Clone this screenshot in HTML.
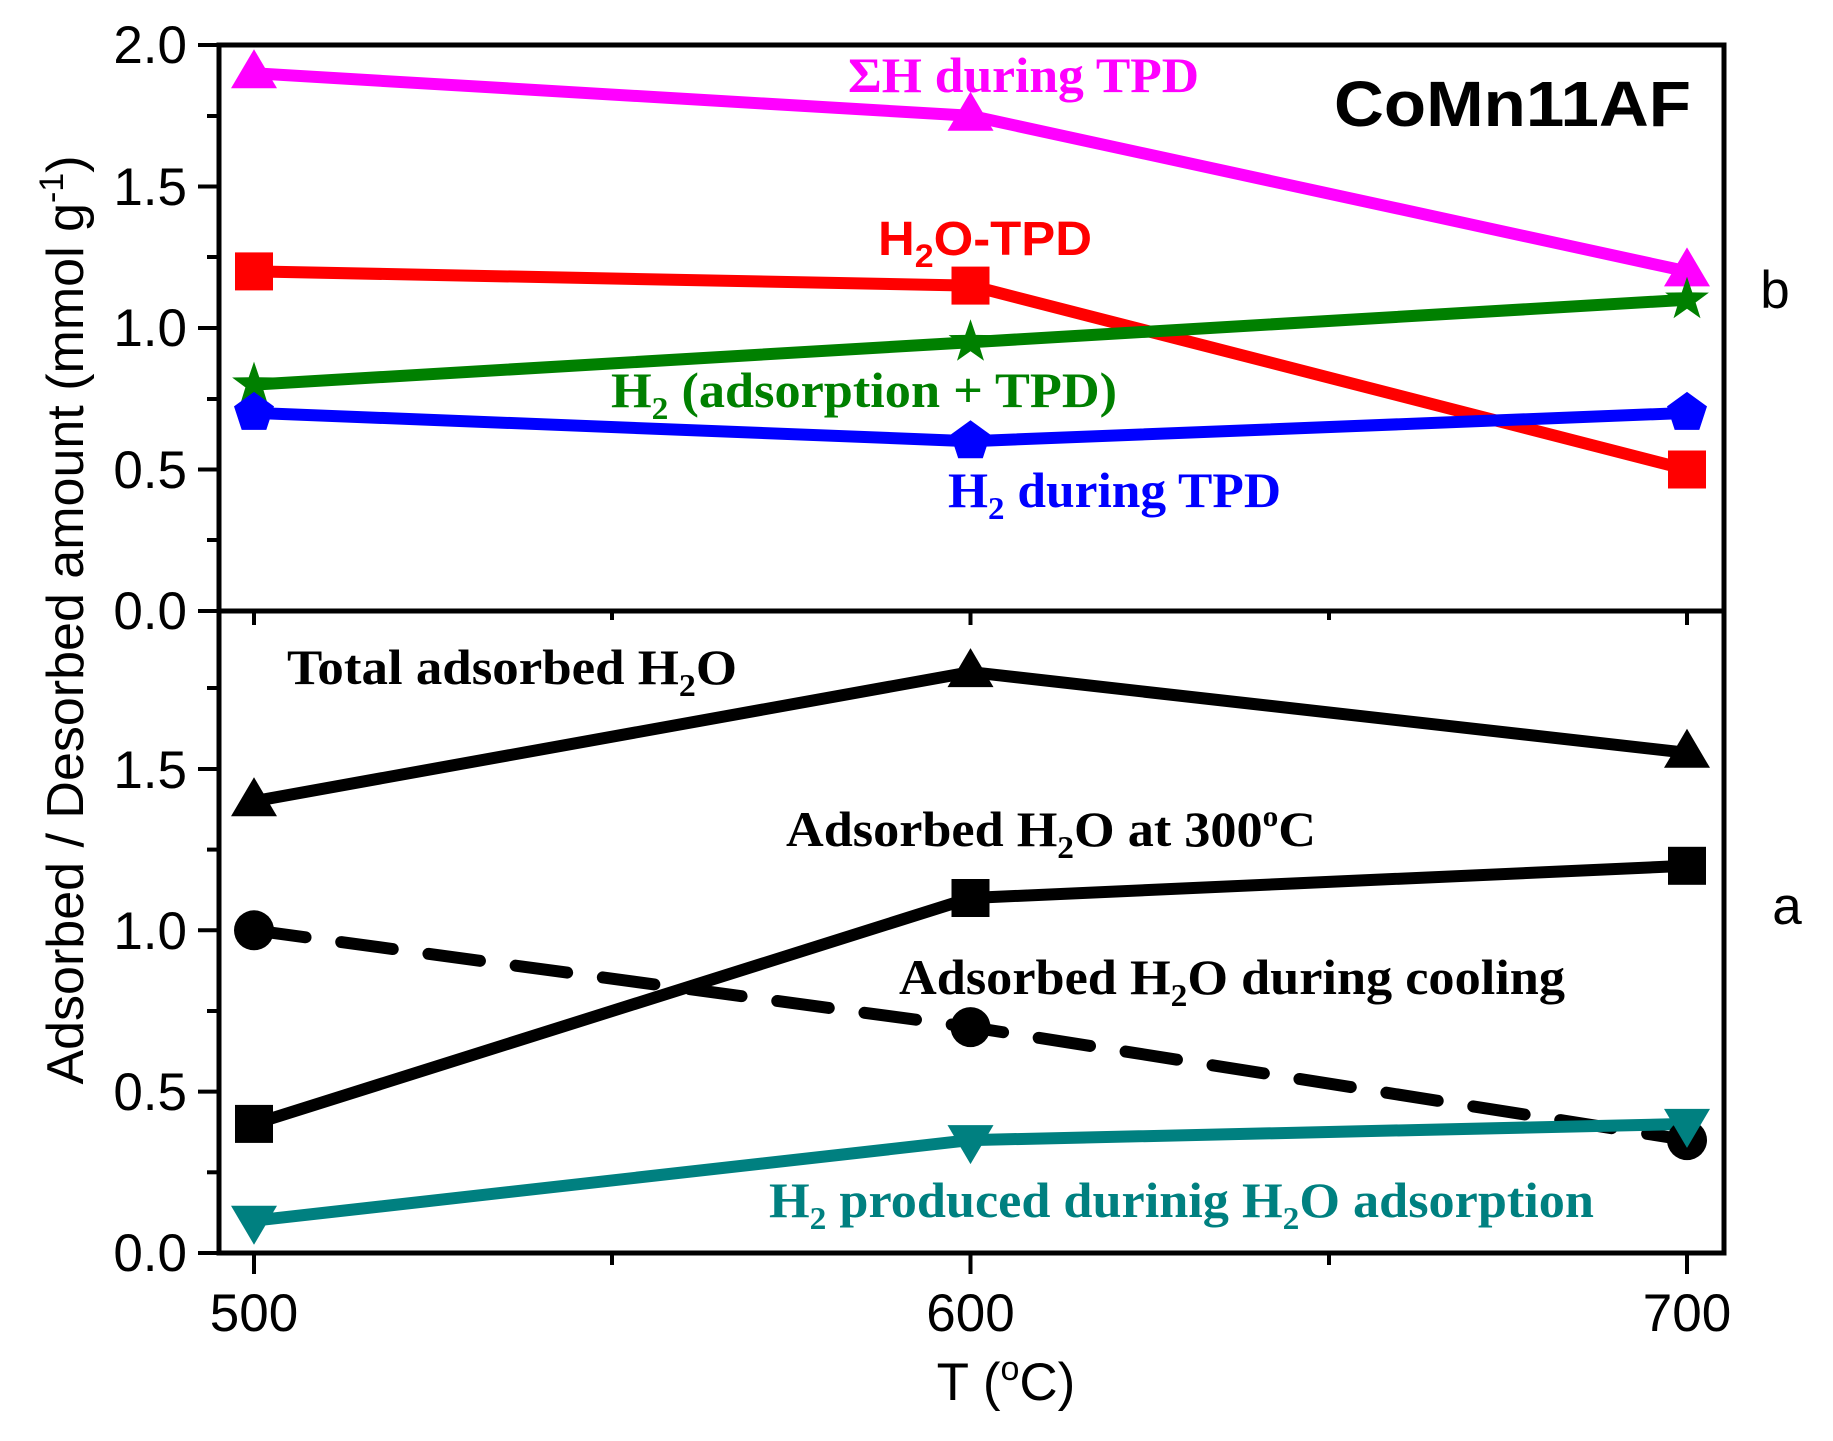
<!DOCTYPE html>
<html><head><meta charset="utf-8"><style>html,body{margin:0;padding:0;background:#fff}svg{display:block}</style></head>
<body>
<svg width="1833" height="1441" viewBox="0 0 1833 1441" xmlns="http://www.w3.org/2000/svg">
<defs>
<polygon id="tu" points="0,-24 23,15 -23,15"/>
<polygon id="td" points="0,24 23,-15 -23,-15"/>
<rect id="sq" x="-19" y="-19" width="38" height="38"/>
<polygon id="st" points="0,-23 5.3,-7.3 21.9,-7.1 8.6,2.8 13.5,18.6 0,9 -13.5,18.6 -8.6,2.8 -21.9,-7.1 -5.3,-7.3"/>
<polygon id="pe" points="0,-21 20,-6.5 12.3,17 -12.3,17 -20,-6.5"/>
</defs>
<g stroke="#000" stroke-width="5" fill="none">
<rect x="219" y="45" width="1505" height="1208"/>
<line x1="219" y1="611" x2="1724" y2="611"/>
</g>
<g stroke="#000" stroke-width="4">
<line x1="198" y1="45" x2="219" y2="45"/><line x1="207" y1="116" x2="219" y2="116"/>
<line x1="198" y1="186.5" x2="219" y2="186.5"/><line x1="207" y1="257" x2="219" y2="257"/>
<line x1="198" y1="328" x2="219" y2="328"/><line x1="207" y1="399" x2="219" y2="399"/>
<line x1="198" y1="469.5" x2="219" y2="469.5"/><line x1="207" y1="540" x2="219" y2="540"/>
<line x1="198" y1="611" x2="219" y2="611"/>
<line x1="207" y1="688" x2="219" y2="688"/><line x1="198" y1="769" x2="219" y2="769"/>
<line x1="207" y1="849.6" x2="219" y2="849.6"/><line x1="198" y1="930.3" x2="219" y2="930.3"/>
<line x1="207" y1="1011" x2="219" y2="1011"/><line x1="198" y1="1091.6" x2="219" y2="1091.6"/>
<line x1="207" y1="1172.3" x2="219" y2="1172.3"/><line x1="198" y1="1253" x2="219" y2="1253"/>
<line x1="254" y1="1253" x2="254" y2="1274"/><line x1="612" y1="1253" x2="612" y2="1265"/>
<line x1="970.5" y1="1253" x2="970.5" y2="1274"/><line x1="1329" y1="1253" x2="1329" y2="1265"/>
<line x1="1687" y1="1253" x2="1687" y2="1274"/>
<line x1="254" y1="611" x2="254" y2="625"/><line x1="612" y1="611" x2="612" y2="620"/>
<line x1="970.5" y1="611" x2="970.5" y2="625"/><line x1="1329" y1="611" x2="1329" y2="620"/>
<line x1="1687" y1="611" x2="1687" y2="625"/>
</g>
<g font-family="Liberation Sans, Arial, sans-serif" font-size="53" fill="#000" text-anchor="end">
<text x="187" y="63">2.0</text><text x="187" y="205">1.5</text><text x="187" y="346">1.0</text>
<text x="187" y="488">0.5</text><text x="187" y="629">0.0</text>
<text x="187" y="788">1.5</text><text x="187" y="949">1.0</text><text x="187" y="1110">0.5</text>
<text x="187" y="1271">0.0</text>
</g>
<g font-family="Liberation Sans, Arial, sans-serif" font-size="53" fill="#000" text-anchor="middle">
<text x="254" y="1331">500</text><text x="970.5" y="1331">600</text><text x="1687" y="1331">700</text>
<text x="1006" y="1400">T (<tspan font-size="34" dy="-20">o</tspan><tspan dy="20">C)</tspan></text>
<text transform="translate(83,620) rotate(-90)" font-size="52">Adsorbed / Desorbed amount (mmol g<tspan font-size="34" dy="-20">-1</tspan><tspan dy="20">)</tspan></text>
<text x="1775" y="308">b</text><text x="1787" y="924">a</text>
</g>
<g fill="none" stroke-width="12" stroke-linejoin="round">
<polyline stroke="#ff00ff" points="254,73.3 970.5,115.8 1687,271.4"/>
<polyline stroke="#ff0000" points="254,271.4 970.5,285.6 1687,469.5"/>
<polyline stroke="#008000" points="254,384.6 970.5,342.2 1687,299.7"/>
<polyline stroke="#0000ff" points="254,412.9 970.5,441.2 1687,412.9"/>
<polyline stroke="#000" points="254,801.2 970.5,672.1 1687,752.8"/>
<polyline stroke="#000" points="254,1123.9 970.5,898 1687,865.8"/>
<polyline stroke="#000" stroke-dasharray="52,36" stroke-linecap="round" points="254,930.3 970.5,1027.1 1687,1140.1"/>
<polyline stroke="#008080" points="254,1220.7 970.5,1140.1 1687,1123.9"/>
</g>
<g fill="#ff00ff"><use href="#tu" x="254" y="73.3"/><use href="#tu" x="970.5" y="115.8"/><use href="#tu" x="1687" y="271.4"/></g>
<g fill="#ff0000"><use href="#sq" x="254" y="271.4"/><use href="#sq" x="970.5" y="285.6"/><use href="#sq" x="1687" y="469.5"/></g>
<g fill="#008000"><use href="#st" x="254" y="384.6"/><use href="#st" x="970.5" y="342.2"/><use href="#st" x="1687" y="299.7"/></g>
<g fill="#0000ff"><use href="#pe" x="254" y="412.9"/><use href="#pe" x="970.5" y="441.2"/><use href="#pe" x="1687" y="412.9"/></g>
<g fill="#000">
<use href="#tu" x="254" y="801.2"/><use href="#tu" x="970.5" y="672.1"/><use href="#tu" x="1687" y="752.8"/>
<use href="#sq" x="254" y="1123.9"/><use href="#sq" x="970.5" y="898"/><use href="#sq" x="1687" y="865.8"/>
<circle cx="254" cy="930.3" r="20"/><circle cx="970.5" cy="1027.1" r="20"/><circle cx="1687" cy="1140.1" r="20"/>
</g>
<g fill="#008080"><use href="#td" x="254" y="1220.7"/><use href="#td" x="970.5" y="1140.1"/><use href="#td" x="1687" y="1123.9"/></g>
<text x="1334" y="126" font-family="Liberation Sans, Arial, sans-serif" font-weight="bold" font-size="64" textLength="357" lengthAdjust="spacingAndGlyphs">CoMn11AF</text>
<g font-family="Liberation Serif, Times New Roman, serif" font-weight="bold" font-size="50">
<text x="848" y="92" fill="#ff00ff" textLength="351" lengthAdjust="spacingAndGlyphs">ΣH during TPD</text>
<text x="611" y="407" fill="#008000" textLength="506" lengthAdjust="spacingAndGlyphs">H<tspan font-size="32" dy="12">2</tspan><tspan dy="-12"> (adsorption + TPD)</tspan></text>
<text x="948" y="507" fill="#0000ff" textLength="333" lengthAdjust="spacingAndGlyphs">H<tspan font-size="32" dy="12">2</tspan><tspan dy="-12"> during TPD</tspan></text>
<text x="287" y="684" fill="#000" textLength="450" lengthAdjust="spacingAndGlyphs">Total adsorbed H<tspan font-size="32" dy="12">2</tspan><tspan dy="-12">O</tspan></text>
<text x="786" y="846" fill="#000" textLength="530" lengthAdjust="spacingAndGlyphs">Adsorbed H<tspan font-size="32" dy="12">2</tspan><tspan dy="-12">O at 300</tspan><tspan font-size="30" dy="-20">o</tspan><tspan dy="20">C</tspan></text>
<text x="899" y="994" fill="#000" textLength="666" lengthAdjust="spacingAndGlyphs">Adsorbed H<tspan font-size="32" dy="12">2</tspan><tspan dy="-12">O during cooling</tspan></text>
<text x="769" y="1217" fill="#008080" textLength="825" lengthAdjust="spacingAndGlyphs">H<tspan font-size="32" dy="12">2</tspan><tspan dy="-12"> produced durinig H</tspan><tspan font-size="32" dy="12">2</tspan><tspan dy="-12">O adsorption</tspan></text>
</g>
<text x="878" y="255" fill="#ff0000" font-family="Liberation Sans, Arial, sans-serif" font-weight="bold" font-size="48" textLength="214" lengthAdjust="spacingAndGlyphs">H<tspan font-size="32" dy="12">2</tspan><tspan dy="-12">O-TPD</tspan></text>
</svg>
</body></html>
